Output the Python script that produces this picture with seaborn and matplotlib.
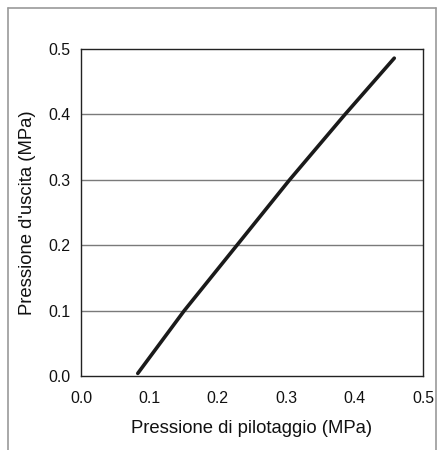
import matplotlib
matplotlib.use("Agg")
import matplotlib.pyplot as plt
import seaborn as sns
import pandas as pd

# Data
pilot_pressure = [0.083, 0.151, 0.228, 0.305, 0.386, 0.458]
output_pressure = [0.004, 0.100, 0.200, 0.300, 0.400, 0.486]
tick_values = [0.0, 0.1, 0.2, 0.3, 0.4, 0.5]
tick_labels = ["0.0", "0.1", "0.2", "0.3", "0.4", "0.5"]
x_label = "Pressione di pilotaggio (MPa)"
y_label = "Pressione d'uscita (MPa)"

sns.set_theme(style="white")
plt.rcParams['font.family'] = ['Liberation Sans', 'DejaVu Sans']

df = pd.DataFrame({"x": pilot_pressure, "y": output_pressure})

fig = plt.figure(figsize=(4.41, 4.50), dpi=100)
ax = fig.add_axes([81/441, 1 - 376/450, (423-81)/441, (376-49)/450])

for v in tick_values[1:-1]:
    ax.axhline(v, color="#7a7a7a", linewidth=1.0, zorder=1)

sns.lineplot(data=df, x="x", y="y", ax=ax, color="#1a1a1a", linewidth=2.6,
             sort=False, estimator=None, zorder=3)

ax.set_xlim(0, 0.5)
ax.set_ylim(0, 0.5)
ax.set_xticks(tick_values)
ax.set_xticklabels(tick_labels)
ax.set_yticks(tick_values)
ax.set_yticklabels(tick_labels)
ax.tick_params(axis="both", direction="in", length=4, width=0.8, color="#222222",
               labelsize=11.4, labelcolor="#111111")
ax.tick_params(axis="x", pad=11)
ax.tick_params(axis="y", pad=7.5)
ax.set_xlabel(x_label, fontsize=13.3, color="#111111", labelpad=10)
ax.set_ylabel(y_label, fontsize=13.3, color="#111111", labelpad=9)
for s in ax.spines.values():
    s.set_color("#222222")
    s.set_linewidth(1.0)
ax.grid(False)

# figure frame (left, top, right)
fig.add_artist(plt.Line2D([8/441, 8/441], [0, 1 - 8/450], transform=fig.transFigure,
                          color="#9a9a9a", linewidth=1.2))
fig.add_artist(plt.Line2D([8/441, 436/441], [1 - 8/450, 1 - 8/450], transform=fig.transFigure,
                          color="#9a9a9a", linewidth=1.2))
fig.add_artist(plt.Line2D([436/441, 436/441], [0, 1 - 8/450], transform=fig.transFigure,
                          color="#9a9a9a", linewidth=1.2))

fig.savefig("out.png", dpi=100)
